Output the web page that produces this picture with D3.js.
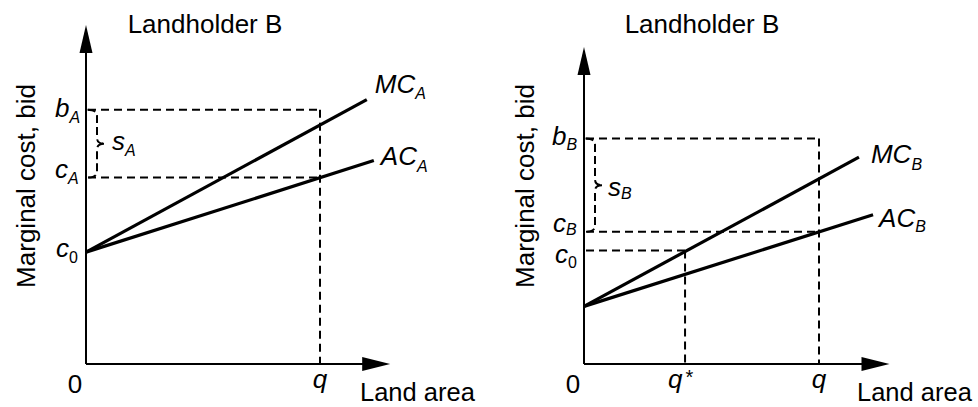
<!DOCTYPE html>
<html>
<head>
<meta charset="utf-8">
<script src="https://cdn.jsdelivr.net/npm/d3@7"></script>
<style>
  html, body { margin: 0; padding: 0; background: #fff; }
  svg { display: block; }
  text { font-family: "Liberation Sans", Arial, Helvetica, sans-serif; fill: #000; }
</style>
</head>
<body>
<script>
// ---------- data (diagram units) ----------
const titles = ["Landholder B", "Landholder B"];
const yAxisLabel = "Marginal cost, bid";
const xAxisLabel = "Land area";
const qValue = 10;            // land area q
const qStar = 4.3;            // q* (right panel)
const axisXEnd = 13;          // arrow tip on x axis
const axisYEnd = [100, 93.5]; // arrow tip on y axis (left, right)

// cost curves [x, y] endpoints
const mcA = [[0, 33], [12.0, 78]];
const acA = [[0, 33], [12.3, 60]];
const mcB = [[0, 17], [11.7, 61]];
const acB = [[0, 17], [12.3, 44]];

// levels on the y axis
const levelsA = { b: 75, c: 55, c0: 33 };
const levelsB = { b: 66.5, c: 39, c0: 33.5 };

// curve labels
const curveNamesA = ["MC", "AC"];
const curveNamesB = ["MC", "AC"];
const subA = "A", subB = "B";

// ---------- layout ----------
const W = 978, H = 407;
const svg = d3.select("body").append("svg").attr("width", W).attr("height", H);

const y = d3.scaleLinear().domain([0, 100]).range([364, 25]);
const xL = d3.scaleLinear().domain([0, 10]).range([86, 320]);
const xR = d3.scaleLinear().domain([0, 10]).range([584, 819]);

const FS = 26, SFS = 16;

function subText(g, x0, yb, main, sub, dy, italicSub) {
  const t = g.append("text").attr("x", x0).attr("y", yb).attr("font-size", FS);
  t.append("tspan").attr("font-style", "italic").text(main);
  t.append("tspan").attr("font-size", SFS).attr("dy", dy)
    .attr("font-style", italicSub ? "italic" : "normal").text(sub);
  return t;
}

function brace(g, x, yTop, yBot) {
  const x0 = x(0) + 1.5, x1 = x(0) + 11, bump = 7, r = 6;
  const y1 = y(yTop), y2 = y(yBot), ym = (y1 + y2) / 2;
  const p = d3.path();
  p.moveTo(x0, y1);
  p.quadraticCurveTo(x1, y1, x1, y1 + r);
  p.lineTo(x1, ym - r);
  p.quadraticCurveTo(x1, ym, x1 + bump, ym);
  p.moveTo(x1 + bump, ym);
  p.quadraticCurveTo(x1, ym, x1, ym + r);
  p.lineTo(x1, y2 - r);
  p.quadraticCurveTo(x1, y2, x0, y2);
  g.append("path").attr("d", p.toString()).attr("fill", "none")
    .attr("stroke", "#000").attr("stroke-width", 2).attr("stroke-dasharray", "8,4");
}

function axes(g, x, yEnd) {
  const ox = x(0), oy = y(0);
  const tx = x(axisXEnd), ty = y(yEnd);
  g.append("line").attr("x1", ox).attr("y1", oy).attr("x2", ox).attr("y2", ty + 20)
    .attr("stroke", "#000").attr("stroke-width", 2);
  g.append("line").attr("x1", ox).attr("y1", oy).attr("x2", tx - 20).attr("y2", oy)
    .attr("stroke", "#000").attr("stroke-width", 2);
  g.append("path").attr("d", `M${ox},${ty} L${ox - 6.5},${ty + 28} L${ox + 6.5},${ty + 28} Z`).attr("fill", "#000");
  g.append("path").attr("d", `M${tx},${oy} L${tx - 28},${oy - 7} L${tx - 28},${oy + 7} Z`).attr("fill", "#000");
}

function dashed(g, x1, y1, x2, y2) {
  g.append("line").attr("x1", x1).attr("y1", y1).attr("x2", x2).attr("y2", y2)
    .attr("stroke", "#000").attr("stroke-width", 2).attr("stroke-dasharray", "8,5");
}

const lineGen = (x) => d3.line().x(d => x(d[0])).y(d => y(d[1]));

function curve(g, x, data) {
  g.append("path").attr("d", lineGen(x)(data)).attr("fill", "none")
    .attr("stroke", "#000").attr("stroke-width", 3.2);
}

// ---------- left panel ----------
const gL = svg.append("g");
svg.append("text").attr("x", 205).attr("y", 33).attr("font-size", FS).attr("text-anchor", "middle").text(titles[0]);
dashed(gL, xL(0) + 2, y(levelsA.b), xL(qValue), y(levelsA.b));
dashed(gL, xL(0) + 2, y(levelsA.c), xL(qValue), y(levelsA.c));
dashed(gL, xL(qValue), y(levelsA.b), xL(qValue), y(0));
axes(gL, xL, axisYEnd[0]);
curve(gL, xL, mcA);
curve(gL, xL, acA);
brace(gL, xL, levelsA.b, levelsA.c);

subText(gL, 55, y(levelsA.b) + 7, "b", subA, 6, true);
subText(gL, 55, y(levelsA.c) + 0, "c", subA, 6, true);
subText(gL, 56, y(levelsA.c0) + 5, "c", "0", 6, false);
subText(gL, 112, y((levelsA.b + levelsA.c) / 2) + 6, "s", subA, 6, true);
subText(gL, xL(mcA[1][0]) + 8, y(mcA[1][1]) - 7, curveNamesA[0], subA, 6, true);
subText(gL, xL(acA[1][0]) + 7, y(acA[1][1]) + 4, curveNamesA[1], subA, 7, true);

gL.append("text").attr("x", xL(0) - 11).attr("y", 393).attr("font-size", FS).attr("text-anchor", "middle").text("0");
gL.append("text").attr("x", xL(qValue)).attr("y", 388).attr("font-size", FS).attr("font-style", "italic").attr("text-anchor", "middle").text("q");
gL.append("text").attr("x", 360).attr("y", 401).attr("font-size", 25.5).text(xAxisLabel);
gL.append("text").attr("transform", "translate(35,186) rotate(-90)").attr("font-size", FS).attr("text-anchor", "middle").text(yAxisLabel);

// ---------- right panel ----------
const gR = svg.append("g");
svg.append("text").attr("x", 702).attr("y", 33).attr("font-size", FS).attr("text-anchor", "middle").text(titles[1]);
dashed(gR, xR(0) + 2, y(levelsB.b), xR(qValue), y(levelsB.b));
dashed(gR, xR(0) + 2, y(levelsB.c), xR(qValue), y(levelsB.c));
dashed(gR, xR(0) + 2, y(levelsB.c0), xR(qStar), y(levelsB.c0));
dashed(gR, xR(qValue), y(levelsB.b), xR(qValue), y(0));
dashed(gR, xR(qStar), y(levelsB.c0), xR(qStar), y(0));
axes(gR, xR, axisYEnd[1]);
curve(gR, xR, mcB);
curve(gR, xR, acB);
brace(gR, xR, levelsB.b, levelsB.c);

subText(gR, 552, y(levelsB.b) + 6, "b", subB, 5, true);
subText(gR, 553, y(levelsB.c) + 0, "c", subB, 3, true);
subText(gR, 555, y(levelsB.c0) + 13, "c", "0", 5, false);
subText(gR, 608, y((levelsB.b + levelsB.c) / 2) + 11, "s", subB, 3, true);
subText(gR, xR(mcB[1][0]) + 12, y(mcB[1][1]) + 6, curveNamesB[0], subB, 7, true);
subText(gR, xR(acB[1][0]) + 6, y(acB[1][1]) + 12, curveNamesB[1], subB, 5, true);

gR.append("text").attr("x", xR(0) - 11).attr("y", 393).attr("font-size", FS).attr("text-anchor", "middle").text("0");
const qs = gR.append("text").attr("x", xR(qStar) - 17).attr("y", 388).attr("font-size", FS);
qs.append("tspan").attr("font-style", "italic").text("q");
qs.append("tspan").attr("dx", 3).attr("dy", -4).attr("font-size", 20).text("*");
gR.append("text").attr("x", xR(qValue)).attr("y", 388).attr("font-size", FS).attr("font-style", "italic").attr("text-anchor", "middle").text("q");
gR.append("text").attr("x", 857).attr("y", 401).attr("font-size", 25.5).text(xAxisLabel);
gR.append("text").attr("transform", "translate(534,186) rotate(-90)").attr("font-size", FS).attr("text-anchor", "middle").text(yAxisLabel);
</script>
</body>
</html>
